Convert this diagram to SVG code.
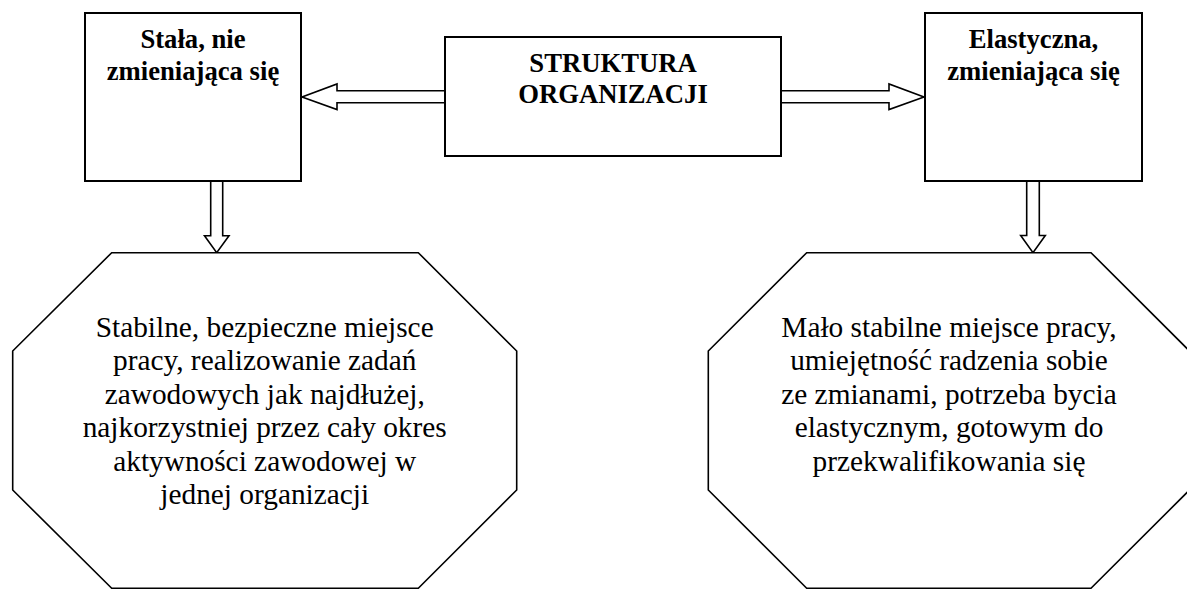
<svg xmlns="http://www.w3.org/2000/svg" width="1187" height="590" viewBox="0 0 1187 590">
  <style>
    .box { fill: #ffffff; stroke: #000000; stroke-width: 2; }
    .oct { fill: #ffffff; stroke: #000000; stroke-width: 1.6; stroke-linejoin: miter; }
    .arrow { fill: #ffffff; stroke: #000000; stroke-width: 1.6; stroke-linejoin: miter; }
    text { font-family: 'Liberation Serif', 'Times New Roman', Times, 'DejaVu Serif', serif; fill: #000000; text-anchor: middle; }
    .head { font-weight: bold; font-size: 26.67px; }
    .body { font-size: 29.33px; }
  </style>

  <rect width="1187" height="590" fill="#ffffff"/>

  <!-- block arrows between the boxes -->
  <g id="connectors">
    <path class="arrow" d="M445,90.7 L337,90.7 L337,84 L302,97 L337,109.5 L337,102.7 L445,102.7"/>
    <path class="arrow" d="M781,90.7 L889,90.7 L889,84 L924,97 L889,109.5 L889,102.7 L781,102.7"/>
    <path class="arrow" d="M210.7,181 L210.7,235.7 L204.5,235.7 L216.7,252.7 L229,235.7 L222.7,235.7 L222.7,181"/>
    <path class="arrow" d="M1026.7,181 L1026.7,235.5 L1020.7,235.5 L1033,252.7 L1045.3,235.5 L1039.3,235.5 L1039.3,181"/>
  </g>

  <!-- central box -->
  <g id="struktura">
    <rect class="box" x="445" y="37" width="336" height="119"/>
    <text class="head" x="613" y="72">STRUKTURA</text>
    <text class="head" x="613" y="103">ORGANIZACJI</text>
  </g>

  <!-- left box -->
  <g id="stala">
    <rect class="box" x="85" y="13" width="216" height="168"/>
    <text class="head" x="193" y="48">Stała, nie</text>
    <text class="head" x="193" y="80">zmieniająca się</text>
  </g>

  <!-- right box -->
  <g id="elastyczna">
    <rect class="box" x="925" y="13" width="217" height="168"/>
    <text class="head" x="1033.5" y="48">Elastyczna,</text>
    <text class="head" x="1033.5" y="80">zmieniająca się</text>
  </g>

  <!-- left octagon -->
  <g id="stabilne">
    <polygon class="oct" points="111.7,252.7 418.3,252.7 516.7,351 516.7,490 418.3,588.3 111.7,588.3 12.7,490 12.7,351"/>
    <text class="body" x="264.7" y="336.7">Stabilne, bezpieczne miejsce</text>
    <text class="body" x="264.7" y="370.2">pracy, realizowanie zadań</text>
    <text class="body" x="264.7" y="403.7">zawodowych jak najdłużej,</text>
    <text class="body" x="264.7" y="437.2">najkorzystniej przez cały okres</text>
    <text class="body" x="264.7" y="470.7">aktywności zawodowej w</text>
    <text class="body" x="264.7" y="504.2">jednej organizacji</text>
  </g>

  <!-- right octagon (runs past the right edge) -->
  <g id="malo-stabilne">
    <polygon class="oct" points="806.7,252.7 1091,252.7 1189.5,351 1189.5,490 1091,588.3 806.7,588.3 708.3,490 708.3,351"/>
    <text class="body" x="949" y="336.7">Mało stabilne miejsce pracy,</text>
    <text class="body" x="949" y="370.2">umiejętność radzenia sobie</text>
    <text class="body" x="949" y="403.7">ze zmianami, potrzeba bycia</text>
    <text class="body" x="949" y="437.2">elastycznym, gotowym do</text>
    <text class="body" x="949" y="470.7">przekwalifikowania się</text>
  </g>
</svg>
